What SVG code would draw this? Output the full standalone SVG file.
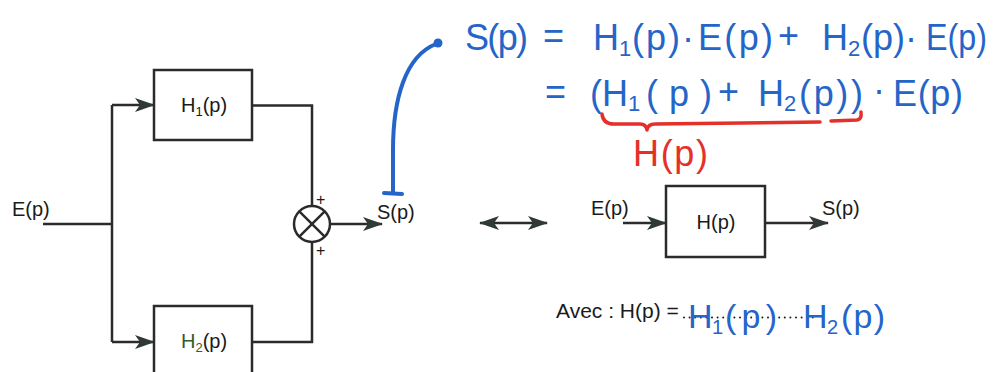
<svg xmlns="http://www.w3.org/2000/svg" width="995" height="372" viewBox="0 0 995 372">
<style>
.ln{fill:none;stroke:#2b2b2b;stroke-width:2.5}
.bx{fill:#fff;stroke:#2b2b2b;stroke-width:2.5}
.t{font-family:"Liberation Sans",Arial,sans-serif;font-size:20px;fill:#1a1a1a}
.sub{font-size:13px}
.hw{font-family:"Liberation Sans",Arial,sans-serif;font-size:36px;fill:#2565c8}
.hs{font-size:22px}
.rd{fill:#e5302a}
.pen{fill:none;stroke:#2565c8;stroke-width:4;stroke-linecap:round}
.rpen{fill:none;stroke:#e5302a;stroke-width:3.5;stroke-linecap:round;stroke-linejoin:round}
</style>
<defs>
<marker id="ah" viewBox="0 0 20 14" markerWidth="20" markerHeight="14" refX="19" refY="7" orient="auto-start-reverse" markerUnits="userSpaceOnUse">
<path d="M0,0 L20,7 L0,14 L5,7 Z" fill="#2f3a36"/>
</marker>
</defs>
<rect width="995" height="372" fill="#fff"/>

<g id="connectors">
<path class="ln" d="M43,224 H112"/>
<path class="ln" d="M112,105 V342"/>
<path class="ln" d="M112,105 H154" marker-end="url(#ah)"/>
<path class="ln" d="M112,342 H154" marker-end="url(#ah)"/>
<path class="ln" d="M252,105.5 H312 V206"/>
<path class="ln" d="M252,342 H312 V242"/>
<path class="ln" d="M330,224 H382" marker-end="url(#ah)"/>
<path class="ln" d="M480,223 H547" marker-start="url(#ah)" marker-end="url(#ah)"/>
<path class="ln" d="M623,223 H666" marker-end="url(#ah)"/>
<path class="ln" d="M765,223 H828" marker-end="url(#ah)"/>
</g>

<g id="E-in">
<text class="t" x="12" y="216">E(p)</text>
</g>

<g id="H1">
<rect class="bx" x="154" y="70" width="98" height="70"/>
<text class="t" x="181" y="112">H<tspan class="sub" dy="4">1</tspan><tspan dy="-4">(p)</tspan></text>
</g>

<g id="H2">
<rect class="bx" x="154" y="306" width="98" height="80"/>
<text class="t" x="181" y="348"><tspan fill="#2d5f2d">H</tspan><tspan class="sub" dy="4" fill="#2d5f2d">2</tspan><tspan dy="-4">(p)</tspan></text>
</g>

<g id="sum">
<circle cx="312" cy="224" r="18" fill="#fff" stroke="#2b2b2b" stroke-width="2.5"/>
<path class="ln" d="M299.3,211.3 L324.7,236.7 M324.7,211.3 L299.3,236.7"/>
<text class="t" x="316" y="205" style="font-size:16px">+</text>
<text class="t" x="316" y="256" style="font-size:16px">+</text>
</g>

<g id="S-out">
<text class="t" x="377" y="219">S(p)</text>
</g>

<g id="H">
<rect class="bx" x="666" y="186" width="99" height="71"/>
<text class="t" x="716" y="229" text-anchor="middle">H(p)</text>
<text class="t" x="591" y="215">E(p)</text>
<text class="t" x="822" y="215">S(p)</text>
</g>

<g id="avec">
<text class="t" x="556" y="318" style="font-size:21px">Avec : H(p) =</text>
<path d="M684,317.5 H818" fill="none" stroke="#1a1a1a" stroke-width="2" stroke-linecap="round" stroke-dasharray="0 5.6"/>
</g>

<g id="handwriting">
<path class="pen" d="M393,193 L393,150 C393,100 405,56 436,44"/>
<path class="pen" d="M384,193 L402,194"/>
<circle cx="438" cy="43" r="4.5" fill="#2565c8"/>

<text class="hw" x="465" y="50" textLength="63">S(p)</text>
<text class="hw" x="543" y="48">=</text>
<text class="hw" x="593" y="50">H</text>
<text class="hw hs" x="619" y="56">1</text>
<text class="hw" x="632" y="50" textLength="62">(p)·</text>
<text class="hw" x="698" y="50" textLength="75">E(p)</text>
<text class="hw" x="778" y="48">+</text>
<text class="hw" x="822" y="50">H</text>
<text class="hw hs" x="848" y="56">2</text>
<text class="hw" x="861" y="50" textLength="56">(p)·</text>
<text class="hw" x="926" y="50" textLength="61" lengthAdjust="spacingAndGlyphs">E(p)</text>

<text class="hw" x="545" y="104">=</text>
<text class="hw" x="590" y="106">(</text>
<text class="hw" x="602" y="106">H</text>
<text class="hw hs" x="628" y="111">1</text>
<text class="hw" x="646" y="106" textLength="66">(p)</text>
<text class="hw" x="718" y="104">+</text>
<text class="hw" x="758" y="106">H</text>
<text class="hw hs" x="784" y="111">2</text>
<text class="hw" x="799" y="106" textLength="64">(p))</text>
<text class="hw" x="873" y="102">·</text>
<text class="hw" x="893" y="106" textLength="70">E(p)</text>

<path class="rpen" d="M602,114 Q603,124 614,124 L640,124 Q646,124 647,130 Q648,124 655,124 L820,122"/>
<path class="rpen" d="M831,121 L857,120 Q862,119 861,112"/>
<text class="hw rd" x="633" y="166" textLength="75">H(p)</text>

<text class="hw" x="688" y="328" style="font-size:34px">H</text>
<text class="hw hs" x="712" y="334" style="font-size:20px">1</text>
<text class="hw" x="725" y="328" style="font-size:34px" textLength="52">(p)</text>
<text class="hw" x="803" y="328" style="font-size:34px">H</text>
<text class="hw hs" x="827" y="334" style="font-size:20px">2</text>
<text class="hw" x="841" y="328" style="font-size:34px" textLength="44">(p)</text>
</g>
</svg>
